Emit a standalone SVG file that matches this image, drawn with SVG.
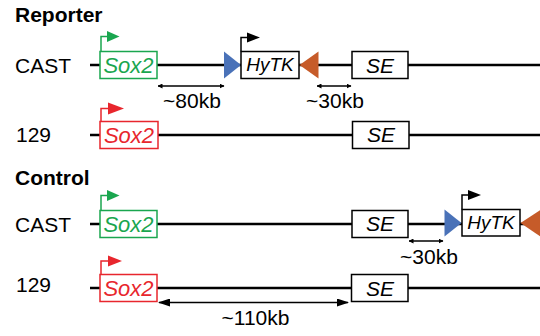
<svg xmlns="http://www.w3.org/2000/svg" width="540" height="336" viewBox="0 0 540 336">
<defs>
<style>
text{font-family:"Liberation Sans",Arial,sans-serif;}
.lbl{font-size:21px;fill:#000;}
.hd{font-size:21px;font-weight:bold;fill:#000;}
.chr{stroke:#000;stroke-width:2.5;fill:none;}
.box{fill:#fff;stroke-width:1.5;}
.gbox{stroke:#1aa64f;}
.rbox{stroke:#e8262d;}
.kbox{stroke:#000;}
.gt{font-size:22px;font-style:italic;fill:#1aa64f;text-anchor:middle;}
.rt{font-size:22px;font-style:italic;fill:#e8262d;text-anchor:middle;}
.kt{font-size:21px;font-style:italic;fill:#000;text-anchor:middle;}
.ht{font-size:19px;font-style:italic;fill:#000;text-anchor:middle;}
.prom{fill:none;stroke-width:1.5;}
.dim{stroke:#000;stroke-width:1.5;fill:none;}
.blue{fill:#4a72b8;}
.orange{fill:#c65b29;}
.mid{text-anchor:middle;}
</style>
<marker id="ah" viewBox="0 0 10 10" refX="9" refY="5" markerWidth="5" markerHeight="5" orient="auto-start-reverse" markerUnits="userSpaceOnUse">
<path d="M0,0 L10,5 L0,10 z" fill="#000"/>
</marker>
<marker id="ahL" viewBox="0 0 12 8" refX="11" refY="4" markerWidth="13" markerHeight="8" orient="auto-start-reverse" markerUnits="userSpaceOnUse">
<path d="M0,0 L12,4 L0,8 z" fill="#000"/>
</marker>
</defs>
<rect width="540" height="336" fill="#fff"/>

<g id="headings">
<text class="hd" x="15" y="22">Reporter</text>
<text class="hd" x="15" y="185">Control</text>
<text class="lbl" x="15" y="73">CAST</text>
<text class="lbl" x="16" y="142">129</text>
<text class="lbl" x="15" y="232">CAST</text>
<text class="lbl" x="16" y="292">129</text>
</g>

<g id="connectors">
<line class="chr" x1="90" y1="65" x2="540" y2="65"/>
<line class="chr" x1="90" y1="135" x2="540" y2="135"/>
<line class="chr" x1="90" y1="224" x2="540" y2="224"/>
<line class="chr" x1="90" y1="288" x2="540" y2="288"/>
<line class="dim" x1="158" y1="86" x2="224" y2="86" marker-start="url(#ah)" marker-end="url(#ah)"/>
<line class="dim" x1="317" y1="86" x2="351" y2="86" marker-start="url(#ah)" marker-end="url(#ah)"/>
<line class="dim" x1="409" y1="241" x2="443" y2="241" marker-start="url(#ah)" marker-end="url(#ah)"/>
<line class="dim" x1="159" y1="302.5" x2="348" y2="302.5" marker-start="url(#ahL)" marker-end="url(#ahL)"/>
<text class="lbl mid" x="192" y="108">~80kb</text>
<text class="lbl mid" x="335" y="108">~30kb</text>
<text class="lbl mid" x="429" y="264">~30kb</text>
<text class="lbl mid" x="255.5" y="325">~110kb</text>
</g>

<g id="r1-sox2">
<path class="prom" stroke="#1aa64f" d="M101,51.5 V36.5 H108"/>
<path d="M107,31 L119.5,36.5 L107,42 z" fill="#1aa64f"/>
<rect class="box gbox" x="100" y="51.5" width="57" height="27"/>
<text class="gt" x="128.5" y="73">Sox2</text>
</g>
<g id="r1-loxp1"><path class="blue" d="M224,51.5 L224,78.5 L241,65 z"/></g>
<g id="r1-hytk">
<path class="prom" stroke="#000" d="M241,51.5 V37.5 H248"/>
<path d="M247,32.5 L260,37.5 L247,42.5 z" fill="#000"/>
<rect class="box kbox" x="241" y="51.5" width="58" height="27"/>
<text class="ht" x="270" y="71">HyTK</text>
</g>
<g id="r1-loxp2"><path class="orange" d="M318.5,51.5 L318.5,78.5 L299.5,65 z"/></g>
<g id="r1-se">
<rect class="box kbox" x="352" y="51.5" width="56" height="27"/>
<text class="kt" x="380" y="73">SE</text>
</g>

<g id="r2-sox2">
<path class="prom" stroke="#e8262d" d="M101,121.5 V108.5 H109"/>
<path d="M108,102.5 L124,108.5 L108,114.5 z" fill="#e8262d"/>
<rect class="box rbox" x="100" y="121.5" width="58" height="27"/>
<text class="rt" x="129" y="143">Sox2</text>
</g>
<g id="r2-se">
<rect class="box kbox" x="352.5" y="121.5" width="56.5" height="27"/>
<text class="kt" x="381" y="142">SE</text>
</g>

<g id="r3-sox2">
<path class="prom" stroke="#1aa64f" d="M101,210.5 V195.5 H108"/>
<path d="M107,190 L119.5,195.5 L107,201 z" fill="#1aa64f"/>
<rect class="box gbox" x="100" y="210.5" width="57" height="27"/>
<text class="gt" x="128.5" y="232">Sox2</text>
</g>
<g id="r3-se">
<rect class="box kbox" x="352" y="210.5" width="56" height="27"/>
<text class="kt" x="380" y="231">SE</text>
</g>
<g id="r3-loxp1"><path class="blue" d="M444.5,209.5 L444.5,236.5 L461.5,223 z"/></g>
<g id="r3-hytk">
<path class="prom" stroke="#000" d="M462,209.5 V195 H469"/>
<path d="M468,190 L481,195 L468,200 z" fill="#000"/>
<rect class="box kbox" x="462" y="209.5" width="58" height="26.5"/>
<text class="ht" x="491" y="229">HyTK</text>
</g>
<g id="r3-loxp2"><path class="orange" d="M541,209.5 L541,237 L520.5,223 z"/></g>

<g id="r4-sox2">
<path class="prom" stroke="#e8262d" d="M101,274.5 V261 H109"/>
<path d="M108,255.5 L122,261 L108,266.5 z" fill="#e8262d"/>
<rect class="box rbox" x="100" y="274.5" width="57" height="27"/>
<text class="rt" x="128.5" y="296">Sox2</text>
</g>
<g id="r4-se">
<rect class="box kbox" x="351.5" y="274.5" width="56.5" height="27"/>
<text class="kt" x="380" y="296">SE</text>
</g>
</svg>
